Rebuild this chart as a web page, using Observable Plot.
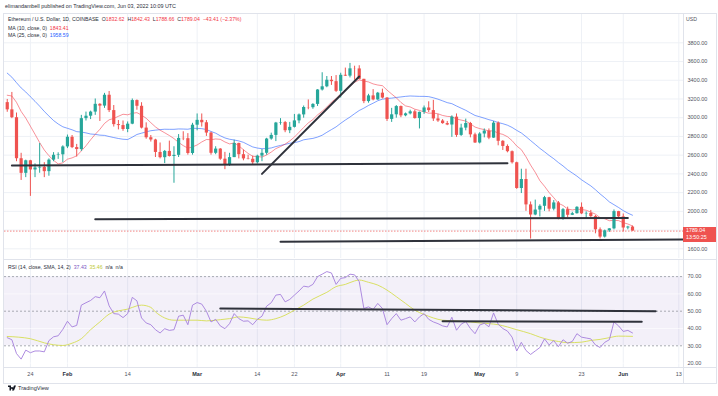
<!DOCTYPE html>
<html><head><meta charset="utf-8">
<script src="https://cdn.jsdelivr.net/npm/d3@7"></script>
<script src="https://cdn.jsdelivr.net/npm/@observablehq/plot@0.6"></script>
<style>
body{margin:0;background:#fff;font-family:"Liberation Sans",Arial,sans-serif;}
#wrap{position:relative;width:718px;height:396px;overflow:hidden;background:#fff;}
.abs{position:absolute;white-space:nowrap;line-height:1;}
.bd{position:absolute;background:#e0e3eb;}
svg{position:absolute;left:0;}
</style></head><body><div id="wrap"></div>
<script>
// ---------- DATA ----------
const firstDay = "2022-01-19"; // daily candles, Jan 19 .. Jun 3 2022
const opens = [
 3161,3084,3000,2562,2406,2540,2442,2463,2470,2424,2547,2599,2604,
 2688,2791,2681,2660,2990,3016,3060,3143,3124,3240,3076,2926,2916,2874,2931,3183,3122,2889,2786,2762,2629,2573,2640,2586,2598,2779,2776,2618,
 2920,2972,2946,2836,2620,2665,2557,2496,2574,2725,2605,2560,2556,2519,2590,2620,2772,2811,2943,2948,2861,2897,2966,3030,3109,3107,3142,3296,3330,3400,3385,
 3282,3453,3444,3522,3521,3410,3172,3233,3190,3262,3210,2982,3031,3119,3020,3041,3063,2991,3057,3104,3076,2987,2965,2937,2922,3006,2811,2889,2938,2817,
 2730,2826,2857,2782,2942,2748,2693,2637,2519,2244,2340,2069,1961,2014,2054,2146,2023,2090,1914,2018,1958,1975,2043,1973,1978,1944,1803,1725,1792,1813,1997,
 1941,1822,1832.62];
const highs = [
 3195,3270,3050,2620,2547,2545,2507,2724,2520,2560,2627,2625,2700,
 2815,2810,2715,3025,3060,3070,3200,3150,3260,3280,3130,2970,2965,2955,3200,3190,3160,2945,2810,2770,2730,2650,2750,2690,2820,2850,2830,2940,
 3040,3040,2970,2845,2690,2670,2630,2620,2760,2728,2655,2600,2590,2600,2660,2780,2835,2950,2990,2960,2950,3035,3040,3125,3190,3150,3300,3480,3440,3440,3450,
 3475,3530,3580,3550,3555,3410,3250,3300,3270,3305,3215,3100,3130,3125,3050,3080,3080,3060,3125,3170,3185,3035,2980,2960,3020,3040,2930,2985,2950,2835,
 2840,2880,2880,2960,2955,2755,2710,2645,2525,2450,2450,2100,2120,2070,2160,2150,2115,2105,2030,2045,1990,2050,2090,1995,2010,1955,1823,1800,1815,2015,2000,
 1972,1840,1842.43];
const lows = [
 3058,2990,2530,2330,2360,2160,2360,2407,2360,2375,2530,2555,2520,
 2670,2670,2580,2640,2965,2980,3025,2960,3100,3055,2900,2870,2855,2840,2925,3080,2880,2770,2740,2575,2560,2510,2580,2300,2575,2755,2600,2600,
 2860,2900,2800,2600,2605,2545,2445,2480,2574,2560,2540,2550,2500,2505,2530,2600,2760,2745,2920,2840,2830,2890,2935,2995,3085,3090,3120,3285,3320,3345,3270,
 3210,3440,3425,3400,3405,3150,3155,3180,3185,3200,2960,2950,2995,3000,3010,3030,2985,2880,3035,3055,2960,2950,2930,2915,2790,2790,2800,2860,2785,2725,
 2720,2785,2765,2780,2700,2650,2625,2505,2235,2190,2000,1704,1953,1940,2000,1995,2005,1910,1905,1930,1955,1970,1965,1925,1935,1760,1705,1715,1775,1802,1918,
 1780,1803,1788.66];
const closes = [
 3084,3000,2562,2406,2540,2442,2463,2470,2424,2547,2599,2604,2688,
 2791,2681,2660,2990,3016,3060,3143,3124,3240,3076,2926,2916,2874,2931,3183,3122,2889,2786,2762,2629,2573,2640,2586,2598,2779,2776,2618,2920,
 2972,2946,2836,2620,2665,2557,2496,2574,2725,2605,2560,2556,2519,2590,2620,2772,2811,2943,2948,2861,2897,2966,3030,3109,3107,3142,3296,3330,3400,3385,3282,
 3453,3444,3522,3521,3410,3172,3233,3190,3262,3210,2982,3031,3119,3020,3041,3063,2991,3057,3104,3076,2987,2965,2937,2922,3006,2811,2889,2938,2817,2730,
 2826,2857,2782,2942,2748,2693,2637,2519,2244,2340,2069,1961,2014,2054,2146,2023,2090,1914,2018,1958,1975,2043,1973,1978,1944,1803,1725,1792,1813,1997,1941,
 1822,1832.45,1789.04];
const ma10 = [
 3240,3232,3164,3067,2996,2909,2823,2734,2655,2594,2545,2506,2518,
 2557,2571,2593,2645,2700,2764,2823,2876,2939,2978,2992,3015,3037,3031,3047,3054,3028,2994,2947,2902,2867,2839,2810,2777,2736,2702,2675,2688,
 2709,2741,2767,2765,2773,2769,2741,2720,2731,2700,2658,2619,2588,2585,2580,2602,2633,2670,2692,2718,2752,2793,2844,2896,2944,2981,3030,3069,3114,3166,3205,
 3253,3295,3336,3378,3404,3392,3382,3361,3349,3342,3295,3253,3213,3163,3126,3115,3091,3078,3062,3048,3049,3042,3024,3014,3011,2986,2975,2964,2935,2900,
 2884,2873,2858,2860,2834,2822,2797,2755,2698,2659,2583,2494,2417,2328,2268,2201,2146,2086,2063,2025,2015,2024,2019,2012,1992,1970,1933,1921,1900,1904,1901,
 1879,1865,1843.41];
const ma25 = [
 3476,3433,3374,3318,3275,3224,3175,3123,3067,3018,2970,2933,2903,
 2887,2871,2851,2847,2838,2826,2822,2814,2811,2799,2788,2778,2770,2767,2792,2821,2835,2849,2861,2867,2873,2877,2876,2876,2880,2879,2877,2887,
 2886,2883,2874,2853,2835,2807,2784,2770,2762,2752,2737,2712,2688,2676,2669,2670,2677,2692,2704,2715,2727,2734,2745,2764,2772,2779,2793,2813,2844,2873,2902,
 2940,2975,3007,3043,3077,3102,3131,3155,3181,3198,3205,3209,3216,3222,3228,3232,3230,3228,3228,3225,3213,3198,3180,3161,3150,3125,3102,3079,3051,3024,
 3010,2995,2979,2966,2948,2936,2920,2896,2865,2837,2798,2756,2715,2673,2636,2597,2562,2521,2485,2443,2410,2376,2337,2304,2272,2231,2186,2146,2101,2071,2041,
 2008,1981,1958.59];
const rsi = [
 34.7,33.5,25.5,22.3,27.5,26.0,27.0,27.0,26.5,33.0,35.2,35.8,39.5,
 44.2,40.9,41.8,53.5,54.9,56.2,58.4,57.8,61.7,53.1,48.6,48.3,46.3,48.6,58.0,56.0,46.1,43.2,42.2,39.3,37.4,39.9,38.9,39.3,47.1,47.7,42.2,53.5,
 55.0,54.1,50.0,43.8,45.3,41.5,39.9,42.8,48.6,45.7,44.2,44.4,42.2,45.3,47.1,52.9,54.9,59.3,59.7,55.4,56.8,59.3,61.7,64.5,64.0,65.5,70.0,71.4,72.9,72.1,65.5,
 69.0,69.4,71.4,71.0,67.1,51.6,52.5,51.0,54.5,51.6,42.2,45.7,48.6,44.8,45.7,46.7,43.8,46.7,48.6,45.3,43.8,42.8,41.5,40.9,46.5,39.0,42.5,44.0,40.0,37.0,
 42.0,43.0,41.0,49.0,42.5,40.0,38.5,35.0,27.0,32.0,27.3,25.0,27.0,29.0,34.0,30.5,33.0,29.5,33.5,31.5,32.5,37.0,35.0,34.5,34.0,30.5,29.0,32.0,33.5,43.8,41.5,
 38.3,38.9,37.43];
const rsiMaDays = ["2022-01-19","2022-01-24","2022-01-27","2022-01-29","2022-01-31","2022-02-02","2022-02-04","2022-02-06","2022-02-08","2022-02-10","2022-02-12","2022-02-14","2022-02-16","2022-02-17","2022-02-19","2022-02-20","2022-02-22","2022-02-24","2022-02-26","2022-03-01","2022-03-03","2022-03-06","2022-03-08","2022-03-10","2022-03-12","2022-03-14","2022-03-16","2022-03-18","2022-03-20","2022-03-22","2022-03-24","2022-03-26","2022-03-29","2022-03-31","2022-04-02","2022-04-04","2022-04-05","2022-04-07","2022-04-09","2022-04-11","2022-04-13","2022-04-15","2022-04-17","2022-04-19","2022-04-21","2022-04-23","2022-04-25","2022-04-27","2022-04-29","2022-05-01","2022-05-03","2022-05-05","2022-05-07","2022-05-09","2022-05-12","2022-05-14","2022-05-16","2022-05-18","2022-05-20","2022-05-23","2022-05-25","2022-05-27","2022-05-29","2022-05-31","2022-06-03"];
const rsiMaValues = [35.4,34.1,31.7,30.6,30.2,31.5,34.1,39.3,43.8,48.3,50.2,51.2,53.1,53.5,52.2,49.6,46.1,44.8,44.8,44.8,44.4,45.1,45.7,46.7,46.2,45.3,44.8,45.7,47.7,50.6,53.5,57.0,60.9,64.2,65.5,67.5,68.0,66.7,65.1,62.2,58.4,54.5,50.6,48.1,46.1,44.8,44.5,44.2,43.8,43.2,42.8,42.2,40.9,39.3,37.0,35.0,33.5,32.5,31.8,32.1,33.1,33.7,34.7,35.6,35.46];
// hand-drawn trend lines (start/end day, start/end value)
const priceDrawDays = [["2022-01-20","2022-05-07"],["2022-02-07","2022-06-02"],["2022-03-19","2022-06-14"],["2022-03-15","2022-04-05"]];
const priceDrawValues = [[2490,2513],[1916,1930],[1676,1698],[2400,3440]];
const rsiDrawDays = [["2022-03-06","2022-06-08"],["2022-04-23","2022-06-05"]];
const rsiDrawValues = [[51.6,50.0],[44.2,43.9]];
// ticks
const priceTicks = [1600,1800,2000,2200,2400,2600,2800,3000,3200,3400,3600,3800];
const rsiTicks = [20,30,40,50,60,70];
const rsiLevels = [70,50,30];
const dayTickDays = ["2022-01-24","2022-02-14","2022-03-14","2022-03-22","2022-04-11","2022-04-19","2022-05-09","2022-05-23","2022-06-13"];
const monthTickDays = ["2022-02-01","2022-03-01","2022-04-01","2022-05-01","2022-06-01"];
const viewDays = ["2022-01-21","2022-06-03"];

// ---------- BUILD ----------
const parse = d3.utcParse("%Y-%m-%d");
const start = parse(firstDay);
const candles = closes.map((c,i)=>({date:d3.utcDay.offset(start,i),open:opens[i],high:highs[i],low:lows[i],close:c,ma10:ma10[i],ma25:ma25[i],rsi:rsi[i]}));
const rsiMa = rsiMaDays.map((d,i)=>({date:parse(d),value:rsiMaValues[i]}));
const toSeg = (days,vals)=>days.flatMap((pair,k)=>pair.map((d,j)=>({id:k,date:parse(d),value:vals[k][j]})));
const priceDraw = toSeg(priceDrawDays,priceDrawValues);
const rsiDraw = toSeg(rsiDrawDays,rsiDrawValues);
const dayTicks = dayTickDays.map(parse), monthTicks = monthTickDays.map(parse);
const allTicks = dayTicks.concat(monthTicks);
const last = candles[candles.length-1];
const prev = candles[candles.length-2];
// price labels hidden behind the last-price tag are not drawn
const priceLabelTicks = priceTicks.filter(t => Math.abs(t - last.close) > 80);

const font = '"Liberation Sans", Arial, sans-serif';
const up = "#26a69a", down = "#ef5350";
const col = d => d.close >= d.open ? up : down;
const grid = "#eef1f6";
const xOpt = {type:"utc", domain:viewDays.map(parse), range:[16,632], axis:null};

const main = Plot.plot({
  width:718, height:259, marginTop:14, marginRight:35, marginBottom:1, marginLeft:4,
  style:{background:"transparent", fontFamily:font, fontSize:"5.5px", overflow:"visible"},
  x:xOpt,
  y:{type:"linear", domain:[1600,3800], range:[248.3,42.3], axis:null},
  marks:[
    Plot.gridX(allTicks,{stroke:grid, strokeOpacity:1}),
    Plot.gridY(priceTicks,{stroke:grid, strokeOpacity:1}),
    Plot.ruleY([last.close],{stroke:down, strokeDasharray:"1.5,1.5", strokeOpacity:0.7}),
    Plot.line(candles,{x:"date", y:"ma25", stroke:"#2962ff", strokeOpacity:0.6, strokeWidth:1}),
    Plot.line(candles,{x:"date", y:"ma10", stroke:"#f23645", strokeOpacity:0.55, strokeWidth:1}),
    Plot.ruleX(candles,{x:"date", y1:"low", y2:"high", stroke:col, strokeWidth:1}),
    Plot.ruleX(candles,{x:"date", y1:"open", y2:"close", stroke:col, strokeWidth:3.2}),
    Plot.line(priceDraw,{x:"date", y:"value", z:"id", stroke:"#2f323b", strokeWidth:2}),
    Plot.axisY(priceLabelTicks,{anchor:"right", tickSize:0, tickPadding:4, tickFormat:d=>d.toFixed(2), color:"#50535e", label:null})
  ]
});
main.style.top = "0px";

const rsiPlot = Plot.plot({
  width:718, height:125, marginTop:1, marginRight:35, marginBottom:17, marginLeft:4,
  style:{background:"transparent", fontFamily:font, fontSize:"5.5px", overflow:"visible"},
  x:xOpt,
  y:{type:"linear", domain:[30,70], range:[86.3,17.1], axis:null},
  marks:[
    Plot.gridX(allTicks,{stroke:grid, strokeOpacity:1}),
    Plot.rect([{lo:30,hi:70}],{y1:"lo", y2:"hi", fill:"#7e57c2", fillOpacity:0.09}),
    Plot.gridY([20,40,60],{stroke:"#ffffff", strokeOpacity:0.6}),
    Plot.ruleY(rsiLevels,{stroke:"#9598a1", strokeDasharray:"2,2", strokeOpacity:0.8}),
    Plot.line(rsiMa,{x:"date", y:"value", stroke:"#d6de52", strokeWidth:0.9, curve:"monotone-x"}),
    Plot.line(candles,{x:"date", y:"rsi", stroke:"#a57fdc", strokeWidth:0.9}),
    Plot.line(rsiDraw,{x:"date", y:"value", z:"id", stroke:"#2f323b", strokeWidth:2}),
    Plot.axisY(rsiTicks,{anchor:"right", tickSize:0, tickPadding:4, tickFormat:d=>d.toFixed(2), color:"#50535e", label:null}),
    Plot.axisX(dayTicks,{anchor:"bottom", tickSize:0, tickPadding:5, tickFormat:d3.utcFormat("%-d"), color:"#50535e", label:null}),
    Plot.axisX(monthTicks,{anchor:"bottom", tickSize:0, tickPadding:5, tickFormat:d3.utcFormat("%b"), color:"#2a2e39", fontWeight:"bold", label:null})
  ]
});
rsiPlot.style.top = "259px";

const wrap = document.getElementById("wrap");
wrap.appendChild(main);
wrap.appendChild(rsiPlot);

function box(l,t,w,h){const e=document.createElement("div");e.className="bd";Object.assign(e.style,{left:l+"px",top:t+"px",width:w+"px",height:h+"px"});wrap.appendChild(e);}
box(3,13,714,1); box(3,13,1,371); box(716,13,1,371); box(3,383,714,1);
box(3,258.5,714,1); box(3,367,714,1); box(683,13,1,371);

function text(html,l,t,size,color,extra){const e=document.createElement("div");e.className="abs";e.innerHTML=html;Object.assign(e.style,{left:l+"px",top:t+"px",fontSize:size+"px",color:color},extra||{});wrap.appendChild(e);return e;}
const dk="#2a2e39", rd="#f23645", bl="#2962ff";
text("elimandambell published on TradingView.com, Jun 03, 2022 10:09 UTC",5,4,5.4,dk);
const v=(n)=>n.toFixed(2);
const chg=last.close-prev.close;
text(`Ethereum / U.S. Dollar, 1D, COINBASE&nbsp; <span>O</span><span style="color:${rd}">${v(last.open)}</span>&nbsp; H<span style="color:${rd}">${v(last.high)}</span>&nbsp; L<span style="color:${rd}">${v(last.low)}</span>&nbsp; C<span style="color:${rd}">${v(last.close)}</span>&nbsp; <span style="color:${rd}">−${Math.abs(chg).toFixed(2)} (−${(Math.abs(chg)/prev.close*100).toFixed(2)}%)</span>`,8,17,5.2,dk);
text(`MA (10, close, 0)&nbsp; <span style="color:${rd}">${v(last.ma10)}</span>`,8,25.5,5.2,dk);
text(`MA (25, close, 0)&nbsp; <span style="color:${bl}">${v(last.ma25)}</span>`,8,32.5,5.2,dk);
text(`RSI (14, close, SMA, 14, 2)&nbsp; <span style="color:#7e57c2">${v(last.rsi)}</span>&nbsp; <span style="color:#c0ca33">${v(rsiMaValues[rsiMaValues.length-1])}</span>&nbsp; n/a&nbsp; n/a`,8,265,5.2,dk);
text("USD",686,17,5.2,"#50535e");

// last price label positioned by the plot's y scale
const yLast = main.scale("y").apply(last.close);
const lab = document.createElement("div");
Object.assign(lab.style,{position:"absolute",left:"683px",top:(yLast-3.3)+"px",width:"33px",height:"15px",background:down,color:"#fff",fontSize:"5.3px",lineHeight:"7px",padding:"0 0 0 3px",boxSizing:"border-box"});
lab.innerHTML = `${v(last.close)}<br>13:50:25`;
wrap.appendChild(lab);

// footer logo
const ft = document.createElement("div");
ft.className="abs"; Object.assign(ft.style,{left:"8px",top:"385px",fontSize:"5.6px",color:dk});
ft.innerHTML = `<svg width="9" height="6" style="position:static;vertical-align:-1px;margin-right:1px" viewBox="0 0 36 24"><path d="M0 2h12v20H6V8H0z M16 8a4 4 0 1 0 0.01 0z M24 2h8l-8 20h-8z" fill="#131722"/></svg>TradingView`;
wrap.appendChild(ft);
</script></body></html>
